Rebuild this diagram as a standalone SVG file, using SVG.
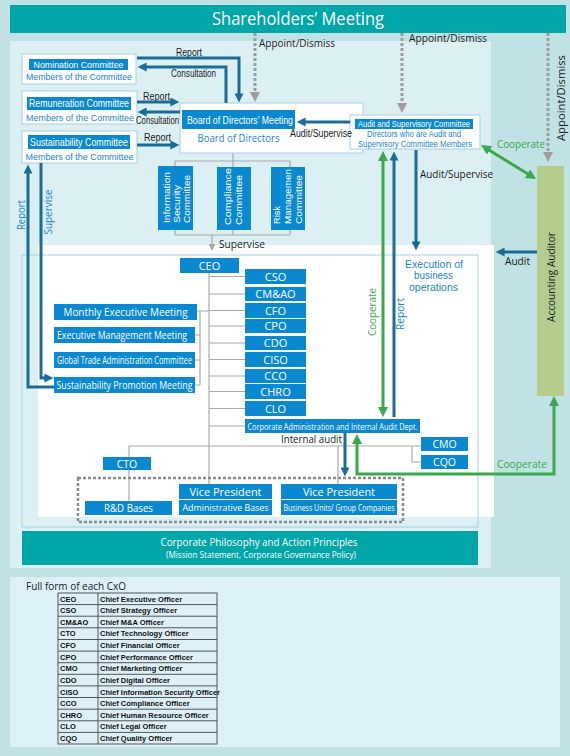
<svg xmlns="http://www.w3.org/2000/svg" width="570" height="756" viewBox="0 0 570 756">
<defs>
<style>
text{font-family:"Open Sans","Liberation Sans",sans-serif;}
.ls{font-family:"Liberation Sans",Arial,sans-serif;}
.w{fill:#fff}
.bt{fill:#1a84c9}
.k{fill:#1a1a1a}
.gt{fill:#3aa84c}
.lb{fill:#0a88d0}
.bx{fill:#fff;stroke:#a3cfe6;stroke-width:1}
.gl{stroke:#a9a9a9;stroke-width:1.2;fill:none}
.ba{stroke:#1a6d96;stroke-width:3;fill:none;marker-end:url(#ab)}
.ga{stroke:#3aa84c;stroke-width:3;fill:none;marker-start:url(#ag);marker-end:url(#ag)}
.da{stroke:#9d9d9d;stroke-width:3;stroke-dasharray:3 2;fill:none;marker-end:url(#ad)}
.c{text-anchor:middle}
.tb{font-family:"Liberation Sans",Arial,sans-serif;font-weight:bold;font-size:7.5px;fill:#111}
.tl{stroke:#444;stroke-width:0.9;fill:none}
</style>
<marker id="ab" viewBox="0 0 10 10" refX="4" refY="5" markerWidth="10" markerHeight="9" markerUnits="userSpaceOnUse" orient="auto-start-reverse"><path d="M0,0 L10,5 L0,10 z" fill="#1a6d96"/></marker>
<marker id="ag" viewBox="0 0 10 10" refX="4" refY="5" markerWidth="10" markerHeight="10" markerUnits="userSpaceOnUse" orient="auto-start-reverse"><path d="M0,0 L10,5 L0,10 z" fill="#3aa84c"/></marker>
<marker id="ad" viewBox="0 0 10 10" refX="4" refY="5" markerWidth="10" markerHeight="10" markerUnits="userSpaceOnUse" orient="auto"><path d="M0,0 L10,5 L0,10 z" fill="#9d9d9d"/></marker>
<marker id="as" viewBox="0 0 10 10" refX="3" refY="5" markerWidth="7" markerHeight="7" markerUnits="userSpaceOnUse" orient="auto"><path d="M0,0 L10,5 L0,10 z" fill="#a9a9a9"/></marker>
</defs>

<!-- backgrounds -->
<rect x="0" y="0" width="570" height="756" fill="#c0e2e4"/>
<rect x="10" y="41" width="481" height="527" fill="#dcf0f3"/>
<rect x="38" y="245" width="456" height="272" fill="#fff"/>
<rect x="22" y="255" width="456" height="272" fill="none" stroke="#a3cfe6" stroke-width="1"/>
<rect x="10" y="577" width="550" height="170" fill="#ddf0f8"/>

<g id="shareholders">
<rect x="10" y="5" width="556" height="28" fill="#00a6a8"/>
<text x="298" y="25" class="w c" font-size="18" textLength="172" lengthAdjust="spacingAndGlyphs">Shareholders’ Meeting</text>
</g>

<!-- gray org lines -->
<g id="org-lines" class="gl">
<path d="M233,153 V235 M175,161 H290 M175,161 V235 M290,161 V235 M175,235 H290"/>
<path d="M209,273 V484"/>
<path d="M209,276.5 H245 M209,294 H245 M209,310.5 H245 M209,326 H245 M209,343 H245 M209,359.5 H245 M209,376 H245 M209,391.5 H245 M209,408.5 H245 M209,426 H245"/>
<path d="M197,311 H209 M200,311 V385 M195,335 H200 M195,360 H200 M195,385 H200"/>
<path d="M129,446 H421 M129,446 V501 M412,446 V462 H421 M338,446 V484"/>
<path d="M212,235 V246" marker-end="url(#as)"/>
</g>

<g id="nomination">
<rect x="22" y="54" width="114" height="30" class="bx"/>
<rect x="29" y="59" width="99" height="11" class="lb"/>
<text x="78.5" y="68" class="w c ls" font-size="9.5" textLength="90" lengthAdjust="spacingAndGlyphs">Nomination Committee</text>
<text x="79" y="80" class="bt c ls" font-size="9.5" textLength="106" lengthAdjust="spacingAndGlyphs">Members of the Committee</text>
</g>

<g id="remuneration">
<rect x="22" y="91" width="115" height="33" class="bx"/>
<rect x="27" y="97" width="104" height="13" class="lb"/>
<text x="79" y="107" class="w c ls" font-size="10" textLength="100" lengthAdjust="spacingAndGlyphs">Remuneration Committee</text>
<text x="80" y="121" class="bt c ls" font-size="9.5" textLength="108" lengthAdjust="spacingAndGlyphs">Members of the Committee</text>
</g>

<g id="sustainability">
<rect x="22" y="131" width="115" height="32" class="bx"/>
<rect x="28" y="135" width="102" height="14" class="lb"/>
<text x="79" y="145.5" class="w c ls" font-size="10" textLength="98" lengthAdjust="spacingAndGlyphs">Sustainability Committee</text>
<text x="79.5" y="159.5" class="bt c ls" font-size="9.5" textLength="108" lengthAdjust="spacingAndGlyphs">Members of the Committee</text>
</g>

<g id="board">
<rect x="180" y="103" width="183" height="50" class="bx"/>
<rect x="182" y="110" width="113" height="19" class="lb"/>
<text x="240" y="123.5" class="w c ls" font-size="11" textLength="106" lengthAdjust="spacingAndGlyphs">Board of Directors’ Meeting</text>
<text x="238.5" y="142" class="bt c" font-size="11" textLength="82" lengthAdjust="spacingAndGlyphs">Board of Directors</text>
</g>

<g id="audit-committee">
<rect x="350" y="115" width="130" height="34" class="bx"/>
<rect x="355" y="119" width="118" height="10" class="lb"/>
<text x="414" y="127.3" class="w c ls" font-size="8.5" textLength="112" lengthAdjust="spacingAndGlyphs">Audit and Supervisory Committee</text>
<text x="414" y="137" class="bt c ls" font-size="8.5" textLength="94" lengthAdjust="spacingAndGlyphs">Directors who are Audit and</text>
<text x="415" y="146.8" class="bt c ls" font-size="8.5" textLength="114" lengthAdjust="spacingAndGlyphs">Supervisory Committee Members</text>
</g>

<g id="info-security">
<rect x="158" y="166" width="35" height="64" class="lb"/>
<text transform="translate(169.5,223) rotate(-90)" class="w ls" font-size="9" textLength="51" lengthAdjust="spacingAndGlyphs">Information</text>
<text transform="translate(179.7,223) rotate(-90)" class="w ls" font-size="9" textLength="38" lengthAdjust="spacingAndGlyphs">Security</text>
<text transform="translate(190,223) rotate(-90)" class="w ls" font-size="9" textLength="48" lengthAdjust="spacingAndGlyphs">Committee</text>
</g>

<g id="compliance">
<rect x="217" y="167" width="34" height="63" class="lb"/>
<text transform="translate(231,225) rotate(-90)" class="w ls" font-size="9.5" textLength="57" lengthAdjust="spacingAndGlyphs">Compliance</text>
<text transform="translate(241.7,225) rotate(-90)" class="w ls" font-size="9.5" textLength="50" lengthAdjust="spacingAndGlyphs">Committee</text>
</g>

<g id="risk">
<rect x="271" y="167" width="34" height="63" class="lb"/>
<text transform="translate(280,224) rotate(-90)" class="w ls" font-size="9" textLength="18" lengthAdjust="spacingAndGlyphs">Risk</text>
<text transform="translate(290.8,224) rotate(-90)" class="w ls" font-size="9" textLength="55" lengthAdjust="spacingAndGlyphs">Managemen</text>
<text transform="translate(301.5,224) rotate(-90)" class="w ls" font-size="9" textLength="49" lengthAdjust="spacingAndGlyphs">Committee</text>
</g>

<g id="accounting-auditor">
<rect x="537" y="166" width="27" height="230" fill="#b4cd8d"/>
<text transform="translate(555,277) rotate(-90)" class="k c" font-size="10.5" textLength="90" lengthAdjust="spacingAndGlyphs">Accounting Auditor</text>
</g>

<g id="ceo"><rect x="180" y="258" width="59" height="15" class="lb"/><text x="209.5" y="269.5" class="w c" font-size="11">CEO</text></g>
<g id="cso"><rect x="245" y="269" width="61" height="15" class="lb"/><text x="275.5" y="280.5" class="w c" font-size="11">CSO</text></g>
<g id="cmao"><rect x="245" y="287" width="61" height="14" class="lb"/><text x="275.5" y="298" class="w c" font-size="11">CM&amp;AO</text></g>
<g id="cfo"><rect x="245" y="303" width="61" height="15" class="lb"/><text x="275.5" y="314.5" class="w c" font-size="11">CFO</text></g>
<g id="cpo"><rect x="245" y="319" width="61" height="14" class="lb"/><text x="275.5" y="330" class="w c" font-size="11">CPO</text></g>
<g id="cdo"><rect x="245" y="336" width="61" height="14" class="lb"/><text x="275.5" y="347" class="w c" font-size="11">CDO</text></g>
<g id="ciso"><rect x="245" y="352" width="61" height="15" class="lb"/><text x="275.5" y="363.5" class="w c" font-size="11">CISO</text></g>
<g id="cco"><rect x="245" y="369" width="61" height="14" class="lb"/><text x="275.5" y="380" class="w c" font-size="11">CCO</text></g>
<g id="chro"><rect x="245" y="384" width="61" height="15" class="lb"/><text x="275.5" y="395.5" class="w c" font-size="11">CHRO</text></g>
<g id="clo"><rect x="245" y="401" width="61" height="15" class="lb"/><text x="275.5" y="412.5" class="w c" font-size="11">CLO</text></g>
<g id="corp-admin"><rect x="245" y="419" width="175" height="14" class="lb"/><text x="332.5" y="429.5" class="w c" font-size="9.5" textLength="170" lengthAdjust="spacingAndGlyphs">Corporate Administration and Internal Audit Dept.</text></g>

<g id="monthly"><rect x="54" y="304" width="143" height="16" class="lb"/><text x="125.5" y="316" class="w c" font-size="11" textLength="124" lengthAdjust="spacingAndGlyphs">Monthly Executive Meeting</text></g>
<g id="exec-mgmt"><rect x="54" y="327" width="141" height="16" class="lb"/><text x="122" y="339" class="w c" font-size="10.5" textLength="130" lengthAdjust="spacingAndGlyphs">Executive Management Meeting</text></g>
<g id="global-trade"><rect x="54" y="352" width="141" height="16" class="lb"/><text x="124.5" y="364" class="w c" font-size="10.5" textLength="135" lengthAdjust="spacingAndGlyphs">Global Trade Administration Committee</text></g>
<g id="sust-promo"><rect x="54" y="377" width="141" height="16" class="lb"/><text x="124.5" y="389" class="w c" font-size="10.5" textLength="136" lengthAdjust="spacingAndGlyphs">Sustainability Promotion Meeting</text></g>

<g id="cto"><rect x="103" y="457" width="48" height="13" class="lb"/><text x="127" y="467.5" class="w c" font-size="10.5">CTO</text></g>
<g id="cmo"><rect x="421" y="437" width="47" height="14" class="lb"/><text x="444.5" y="448" class="w c" font-size="10.5">CMO</text></g>
<g id="cqo"><rect x="421" y="455" width="47" height="14" class="lb"/><text x="444.5" y="466" class="w c" font-size="10.5">CQO</text></g>

<g id="bases">
<rect x="78" y="478" width="325" height="44" fill="none" stroke="#8a8a8a" stroke-width="2.5" stroke-dasharray="3 2"/>
<rect x="85" y="501" width="87" height="14" class="lb"/><text x="128.5" y="512" class="w c" font-size="10.5" textLength="49" lengthAdjust="spacingAndGlyphs">R&amp;D Bases</text>
<rect x="179" y="484" width="93" height="15" class="lb"/><text x="225.5" y="495.5" class="w c" font-size="11" textLength="72" lengthAdjust="spacingAndGlyphs">Vice President</text>
<rect x="179" y="500" width="93" height="15" class="lb"/><text x="225.5" y="511" class="w c" font-size="9.5" textLength="86" lengthAdjust="spacingAndGlyphs">Administrative Bases</text>
<rect x="281" y="484" width="116" height="15" class="lb"/><text x="339" y="495.5" class="w c" font-size="11" textLength="72" lengthAdjust="spacingAndGlyphs">Vice President</text>
<rect x="281" y="500" width="116" height="15" class="lb"/><text x="339" y="511" class="w c" font-size="9" textLength="111" lengthAdjust="spacingAndGlyphs">Business Units/ Group Companies</text>
</g>

<g id="philosophy">
<rect x="22" y="531" width="456" height="34" fill="#00a6a8"/>
<text x="259" y="546" class="w c" font-size="11" textLength="197" lengthAdjust="spacingAndGlyphs">Corporate Philosophy and Action Principles</text>
<text x="261" y="558" class="w c" font-size="9" textLength="190" lengthAdjust="spacingAndGlyphs">(Mission Statement, Corporate Governance Policy)</text>
</g>

<!-- connectors -->
<g id="connectors">
<path class="da" d="M255,33 V96"/>
<path class="da" d="M402,33 V107"/>
<path class="da" d="M548,33 V156"/>
<path class="ba" d="M137,58 H239 V97"/>
<path class="ba" d="M226,103 V67 H143"/>
<path class="ba" d="M137,102 H174"/>
<path class="ba" d="M180,112 H143"/>
<path class="ba" d="M137,145 H174"/>
<path class="ba" d="M350,122 H302"/>
<path class="ba" d="M416,150 V245"/>
<path class="ba" d="M394,417 V157"/>
<path class="ba" d="M537,252 H501"/>
<path class="ba" d="M345,433 V471"/>
<path class="ba" d="M54,387 H28 V170"/>
<path class="ba" d="M41,163 V378 H48"/>
<path class="ga" d="M383,157 V411"/>
<path class="ga" d="M486.1,148.2 L530.9,175.8"/>
<path class="ga" d="M357,440 V474 H554 V402"/>
</g>

<g id="connector-labels">
<text x="259" y="47" class="k" font-size="11" textLength="76" lengthAdjust="spacingAndGlyphs">Appoint/Dismiss</text>
<text x="409" y="42" class="k" font-size="11" textLength="78" lengthAdjust="spacingAndGlyphs">Appoint/Dismiss</text>
<text transform="translate(565,141) rotate(-90)" class="k" font-size="11" textLength="86" lengthAdjust="spacingAndGlyphs">Appoint/Dismiss</text>
<text x="176" y="55.5" class="k ls" font-size="10" textLength="26" lengthAdjust="spacingAndGlyphs">Report</text>
<text x="171" y="77" class="k ls" font-size="10" textLength="45" lengthAdjust="spacingAndGlyphs">Consultation</text>
<text x="143" y="100" class="k ls" font-size="10" textLength="27" lengthAdjust="spacingAndGlyphs">Report</text>
<text x="136" y="123.5" class="k ls" font-size="10" textLength="43" lengthAdjust="spacingAndGlyphs">Consultation</text>
<text x="144" y="141" class="k ls" font-size="10" textLength="27" lengthAdjust="spacingAndGlyphs">Report</text>
<text x="290" y="136.5" class="k ls" font-size="10" textLength="62" lengthAdjust="spacingAndGlyphs">Audit/Supervise</text>
<text x="420" y="178" class="k" font-size="10.5" textLength="73" lengthAdjust="spacingAndGlyphs">Audit/Supervise</text>
<text x="219" y="248" class="k" font-size="11" textLength="46" lengthAdjust="spacingAndGlyphs">Supervise</text>
<text x="505" y="265" class="k" font-size="10.5" textLength="25" lengthAdjust="spacingAndGlyphs">Audit</text>
<text x="281" y="443" class="k" font-size="10.5" textLength="61" lengthAdjust="spacingAndGlyphs">Internal audit</text>
<text x="497" y="148" class="gt" font-size="11" textLength="48" lengthAdjust="spacingAndGlyphs">Cooperate</text>
<text x="497" y="468" class="gt" font-size="11" textLength="50" lengthAdjust="spacingAndGlyphs">Cooperate</text>
<text transform="translate(376,312) rotate(-90)" class="gt c" font-size="11" textLength="48" lengthAdjust="spacingAndGlyphs">Cooperate</text>
<text transform="translate(404,314) rotate(-90)" class="bt c" font-size="11" textLength="32" lengthAdjust="spacingAndGlyphs">Report</text>
<text transform="translate(25,215) rotate(-90)" class="bt c" font-size="11" textLength="30" lengthAdjust="spacingAndGlyphs">Report</text>
<text transform="translate(52,212) rotate(-90)" class="bt c" font-size="11" textLength="45" lengthAdjust="spacingAndGlyphs">Supervise</text>
<text x="434" y="268" class="bt c ls" font-size="10" textLength="58" lengthAdjust="spacingAndGlyphs">Execution of</text>
<text x="433.5" y="279.3" class="bt c ls" font-size="10" textLength="39" lengthAdjust="spacingAndGlyphs">business</text>
<text x="433.5" y="290.6" class="bt c ls" font-size="10" textLength="49" lengthAdjust="spacingAndGlyphs">operations</text>
</g>

<g id="cxo-table">
<text x="26" y="590" class="k" font-size="11" textLength="100" lengthAdjust="spacingAndGlyphs">Full form of each CxO</text>
<rect x="58" y="593" width="159" height="151" class="tl"/>
<path class="tl" d="M98,593 V744 M58,604.6 H217 M58,616.2 H217 M58,627.8 H217 M58,639.5 H217 M58,651.1 H217 M58,662.7 H217 M58,674.3 H217 M58,685.9 H217 M58,697.5 H217 M58,709.2 H217 M58,720.8 H217 M58,732.4 H217"/>
<text x="60" y="601.6" class="tb">CEO</text><text x="100" y="601.6" class="tb">Chief Executive Officer</text>
<text x="60" y="613.2" class="tb">CSO</text><text x="100" y="613.2" class="tb">Chief Strategy Officer</text>
<text x="60" y="624.8" class="tb">CM&amp;AO</text><text x="100" y="624.8" class="tb">Chief M&amp;A Officer</text>
<text x="60" y="636.4" class="tb">CTO</text><text x="100" y="636.4" class="tb">Chief Technology Officer</text>
<text x="60" y="648.1" class="tb">CFO</text><text x="100" y="648.1" class="tb">Chief Financial Officer</text>
<text x="60" y="659.7" class="tb">CPO</text><text x="100" y="659.7" class="tb">Chief Performance Officer</text>
<text x="60" y="671.3" class="tb">CMO</text><text x="100" y="671.3" class="tb">Chief Marketing Officer</text>
<text x="60" y="682.9" class="tb">CDO</text><text x="100" y="682.9" class="tb">Chief Digital Officer</text>
<text x="60" y="694.5" class="tb">CISO</text><text x="100" y="694.5" class="tb">Chief Information Security Officer</text>
<text x="60" y="706.1" class="tb">CCO</text><text x="100" y="706.1" class="tb">Chief Compliance Officer</text>
<text x="60" y="717.8" class="tb">CHRO</text><text x="100" y="717.8" class="tb">Chief Human Resource Officer</text>
<text x="60" y="729.4" class="tb">CLO</text><text x="100" y="729.4" class="tb">Chief Legal Officer</text>
<text x="60" y="741" class="tb">CQO</text><text x="100" y="741" class="tb">Chief Quality Officer</text>
</g>
</svg>
